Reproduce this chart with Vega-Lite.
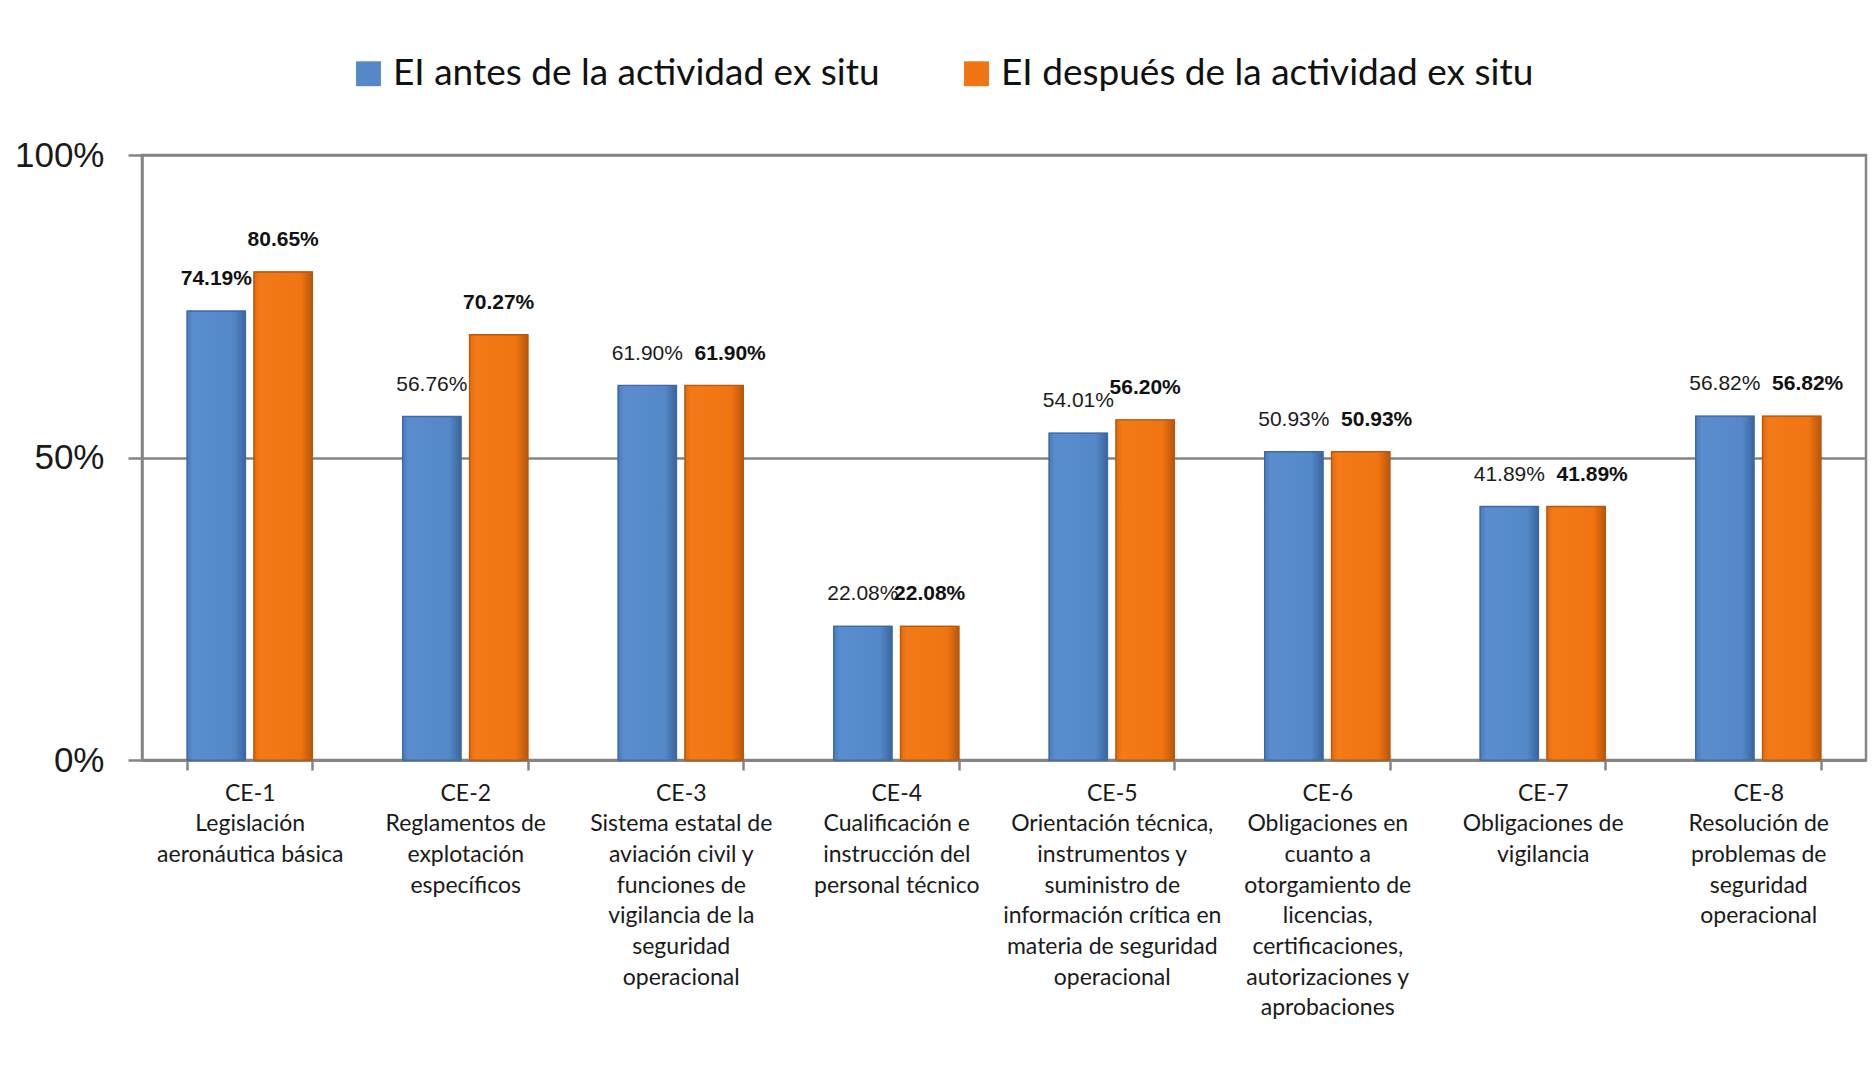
{
  "$schema": "https://vega.github.io/schema/vega-lite/v6.json",
  "autosize": {"type": "none"},
  "width": 1724,
  "height": 605,
  "padding": {"left": 142, "top": 155, "right": 7, "bottom": 315},
  "background": "white",
  "config": {
    "view": {"stroke": "#858585", "strokeWidth": 2.5},
    "font": "Liberation Sans"
  },
  "data": {
    "values": [
      {"cat": "CE-1|Legislación|aeronáutica básica", "serie": "EI antes de la actividad ex situ", "value": 0.7419},
      {"cat": "CE-1|Legislación|aeronáutica básica", "serie": "EI después de la actividad ex situ", "value": 0.8065},
      {"cat": "CE-2|Reglamentos de|explotación|específicos", "serie": "EI antes de la actividad ex situ", "value": 0.5676},
      {"cat": "CE-2|Reglamentos de|explotación|específicos", "serie": "EI después de la actividad ex situ", "value": 0.7027},
      {"cat": "CE-3|Sistema estatal de|aviación civil y|funciones de|vigilancia de la|seguridad|operacional", "serie": "EI antes de la actividad ex situ", "value": 0.619},
      {"cat": "CE-3|Sistema estatal de|aviación civil y|funciones de|vigilancia de la|seguridad|operacional", "serie": "EI después de la actividad ex situ", "value": 0.619},
      {"cat": "CE-4|Cualificación e|instrucción del|personal técnico", "serie": "EI antes de la actividad ex situ", "value": 0.2208},
      {"cat": "CE-4|Cualificación e|instrucción del|personal técnico", "serie": "EI después de la actividad ex situ", "value": 0.2208},
      {"cat": "CE-5|Orientación técnica,|instrumentos y|suministro de|información crítica en|materia de seguridad|operacional", "serie": "EI antes de la actividad ex situ", "value": 0.5401},
      {"cat": "CE-5|Orientación técnica,|instrumentos y|suministro de|información crítica en|materia de seguridad|operacional", "serie": "EI después de la actividad ex situ", "value": 0.562},
      {"cat": "CE-6|Obligaciones en|cuanto a|otorgamiento de|licencias,|certificaciones,|autorizaciones y|aprobaciones", "serie": "EI antes de la actividad ex situ", "value": 0.5093},
      {"cat": "CE-6|Obligaciones en|cuanto a|otorgamiento de|licencias,|certificaciones,|autorizaciones y|aprobaciones", "serie": "EI después de la actividad ex situ", "value": 0.5093},
      {"cat": "CE-7|Obligaciones de|vigilancia", "serie": "EI antes de la actividad ex situ", "value": 0.4189},
      {"cat": "CE-7|Obligaciones de|vigilancia", "serie": "EI después de la actividad ex situ", "value": 0.4189},
      {"cat": "CE-8|Resolución de|problemas de|seguridad|operacional", "serie": "EI antes de la actividad ex situ", "value": 0.5682},
      {"cat": "CE-8|Resolución de|problemas de|seguridad|operacional", "serie": "EI después de la actividad ex situ", "value": 0.5682}
    ]
  },
  "encoding": {
    "x": {
      "field": "cat", "type": "nominal", "sort": null, "title": null,
      "scale": {"paddingInner": 0.42, "paddingOuter": 0.21},
      "axis": {
        "labelAngle": 0,
        "labelExpr": "split(datum.label, '|')",
        "labelFont": "Lato",
        "labelFontSize": 23,
        "labelLineHeight": 30.7,
        "labelColor": "#1a1a1a",
        "labelBaseline": "top",
        "labelPadding": 12,
        "labelLimit": 0,
        "tickBand": "extent",
        "tickSize": 10,
        "tickWidth": 2.5,
        "tickColor": "#858585",
        "domainColor": "#858585",
        "domainWidth": 3,
        "grid": false
      }
    },
    "xOffset": {"field": "serie", "type": "nominal", "scale": {"paddingInner": 0.13}},
    "y": {
      "field": "value", "type": "quantitative", "title": null,
      "scale": {"domain": [0, 1], "nice": false},
      "axis": {
        "values": [0, 0.5, 1],
        "format": ".0%",
        "labelFont": "Liberation Sans",
        "labelFontSize": 35,
        "labelColor": "#1a1a1a",
        "labelPadding": 24,
        "tickSize": 14,
        "tickWidth": 2.5,
        "tickColor": "#858585",
        "domainColor": "#858585",
        "domainWidth": 2.5,
        "grid": true,
        "gridColor": "#858585",
        "gridWidth": 2.5
      }
    }
  },
  "layer": [
    {
      "mark": {"type": "bar", "strokeWidth": 1.5},
      "encoding": {
        "color": {
          "field": "serie", "type": "nominal",
          "scale": {"range": ["#5588C8", "#F07412"]},
          "legend": {
            "orient": "none",
            "direction": "horizontal",
            "legendX": 208,
            "legendY": -100,
            "title": null,
            "symbolType": "square",
            "symbolSize": 620,
            "symbolStrokeWidth": 0,
            "labelFont": "Lato",
            "labelFontSize": 37,
            "labelColor": "#111111",
            "labelOffset": 6,
            "labelLimit": 0,
            "columnPadding": 78
          }
        },
        "stroke": {
          "field": "serie", "type": "nominal",
          "scale": {"range": ["#3E6AA6", "#B8580C"]},
          "legend": null
        }
      }
    },
    {
      "transform": [{"filter": "datum.serie === 'EI antes de la actividad ex situ'"}],
      "mark": {
        "type": "bar", "strokeWidth": 1.2, "stroke": "#3E6AA6",
        "fill": {"gradient": "linear", "x1": 0, "y1": 0, "x2": 1, "y2": 0,
          "stops": [{"offset": 0, "color": "#4A7BBB"}, {"offset": 0.1, "color": "#5A8DCD"}, {"offset": 0.8, "color": "#5588C8"}, {"offset": 1, "color": "#3A659E"}]}
      },
      "encoding": {}
    },
    {
      "transform": [{"filter": "datum.serie !== 'EI antes de la actividad ex situ'"}],
      "mark": {
        "type": "bar", "strokeWidth": 1.2, "stroke": "#B8580C",
        "fill": {"gradient": "linear", "x1": 0, "y1": 0, "x2": 1, "y2": 0,
          "stops": [{"offset": 0, "color": "#E26A0E"}, {"offset": 0.1, "color": "#F37A18"}, {"offset": 0.8, "color": "#F07412"}, {"offset": 1, "color": "#B9570B"}]}
      },
      "encoding": {}
    },
    {
      "transform": [{"filter": "datum.serie === 'EI antes de la actividad ex situ' && datum.value < 0.7"}],
      "mark": {"type": "text", "baseline": "middle", "dy": -32, "fontSize": 21, "font": "Liberation Sans", "color": "#1a1a1a"},
      "encoding": {"text": {"field": "value", "type": "quantitative", "format": ".2%"}}
    },
    {
      "transform": [{"filter": "(datum.serie !== 'EI antes de la actividad ex situ' || datum.value >= 0.7) && indexof(['CE-3','CE-6','CE-7','CE-8'], slice(datum.cat, 0, 4)) < 0"}],
      "mark": {"type": "text", "baseline": "middle", "dy": -32, "fontSize": 21, "fontWeight": "bold", "font": "Liberation Sans", "color": "#111111"},
      "encoding": {"text": {"field": "value", "type": "quantitative", "format": ".2%"}}
    },
    {
      "transform": [{"filter": "datum.serie !== 'EI antes de la actividad ex situ' && indexof(['CE-3','CE-6','CE-7','CE-8'], slice(datum.cat, 0, 4)) >= 0"}],
      "mark": {"type": "text", "baseline": "middle", "dy": -32, "dx": 16, "fontSize": 21, "fontWeight": "bold", "font": "Liberation Sans", "color": "#111111"},
      "encoding": {"text": {"field": "value", "type": "quantitative", "format": ".2%"}}
    }
  ]
}
